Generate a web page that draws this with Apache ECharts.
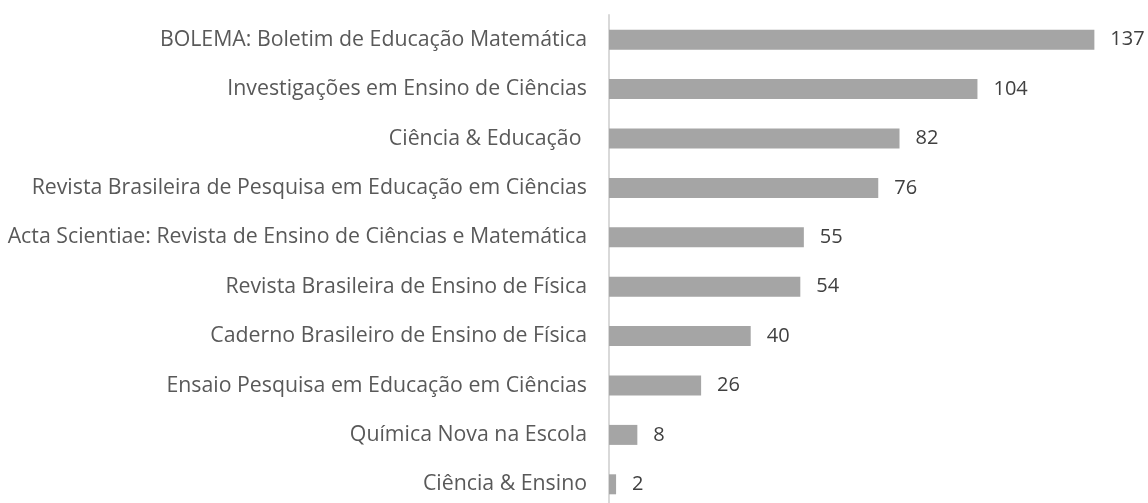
<!DOCTYPE html>
<html><head><meta charset="utf-8">
<script src="https://cdn.jsdelivr.net/npm/echarts@6/dist/echarts.min.js"></script>
<style>html,body{margin:0;padding:0;background:#fff;overflow:hidden}#c{width:1148px;height:509px}</style>
</head><body><div id="c"></div>
<script>
const categories = [
  "BOLEMA: Boletim de Educação Matemática",
  "Investigações em Ensino de Ciências",
  "Ciência & Educação ",
  "Revista Brasileira de Pesquisa em Educação em Ciências",
  "Acta Scientiae: Revista de Ensino de Ciências e Matemática",
  "Revista Brasileira de Ensino de Física",
  "Caderno Brasileiro de Ensino de Física",
  "Ensaio Pesquisa em Educação em Ciências",
  "Química Nova na Escola",
  "Ciência & Ensino"
];
const values = [137, 104, 82, 76, 55, 54, 40, 26, 8, 2];

const chart = echarts.init(document.getElementById('c'));
chart.setOption({
  animation: false,
  grid: { left: 609, width: 496, top: 15, bottom: 0, containLabel: false },
  xAxis: { type: 'value', min: 0, max: 140, show: false },
  yAxis: {
    type: 'category', inverse: true, data: categories,
    axisLine: { show: true, lineStyle: { color: '#D9D9D9', width: 2 } },
    axisTick: { show: false },
    axisLabel: { color: '#595959', fontFamily: 'Open Sans', fontSize: 21.3, margin: 22 }
  },
  series: [{
    type: 'bar', data: values, barWidth: 20,
    itemStyle: { color: '#A5A5A5' },
    label: { show: true, position: 'right', distance: 16, color: '#404040', fontFamily: 'Open Sans', fontSize: 20 }
  }]
});
</script></body></html>
